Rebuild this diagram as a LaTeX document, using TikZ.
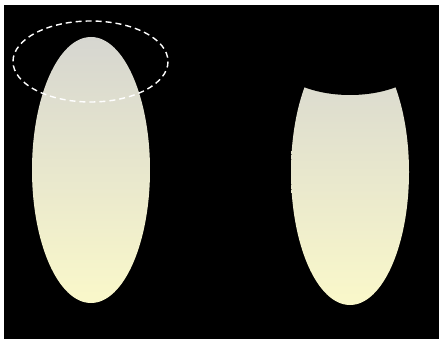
\documentclass[tikz,border=0pt]{standalone}
\definecolor{eggtop}{HTML}{D6D6D0}
\definecolor{eggbot}{HTML}{FAF8CA}
\begin{document}
\begin{tikzpicture}[x=1pt,y=-1pt,
  egg/.style={top color=eggtop,bottom color=eggbot,draw=none},
  selection/.style={draw=white,line width=1.4pt,dash pattern=on 6pt off 4pt}]
\useasboundingbox (0,0) rectangle (439,339);
\fill[white] (0,0) rectangle (439,339);
\fill[black] (4,5) rectangle (439,339);
% left egg
\shade[egg] (91,170) ellipse [x radius=59, y radius=133];
\draw[selection] (90.5,61.5) ellipse [x radius=77.5, y radius=40.5];
% right egg, cut
\shade[egg] (350,172) ellipse [x radius=59, y radius=133];
\fill[black] (350,54.5) ellipse [x radius=77.5, y radius=40.5];
\end{tikzpicture}
\end{document}
